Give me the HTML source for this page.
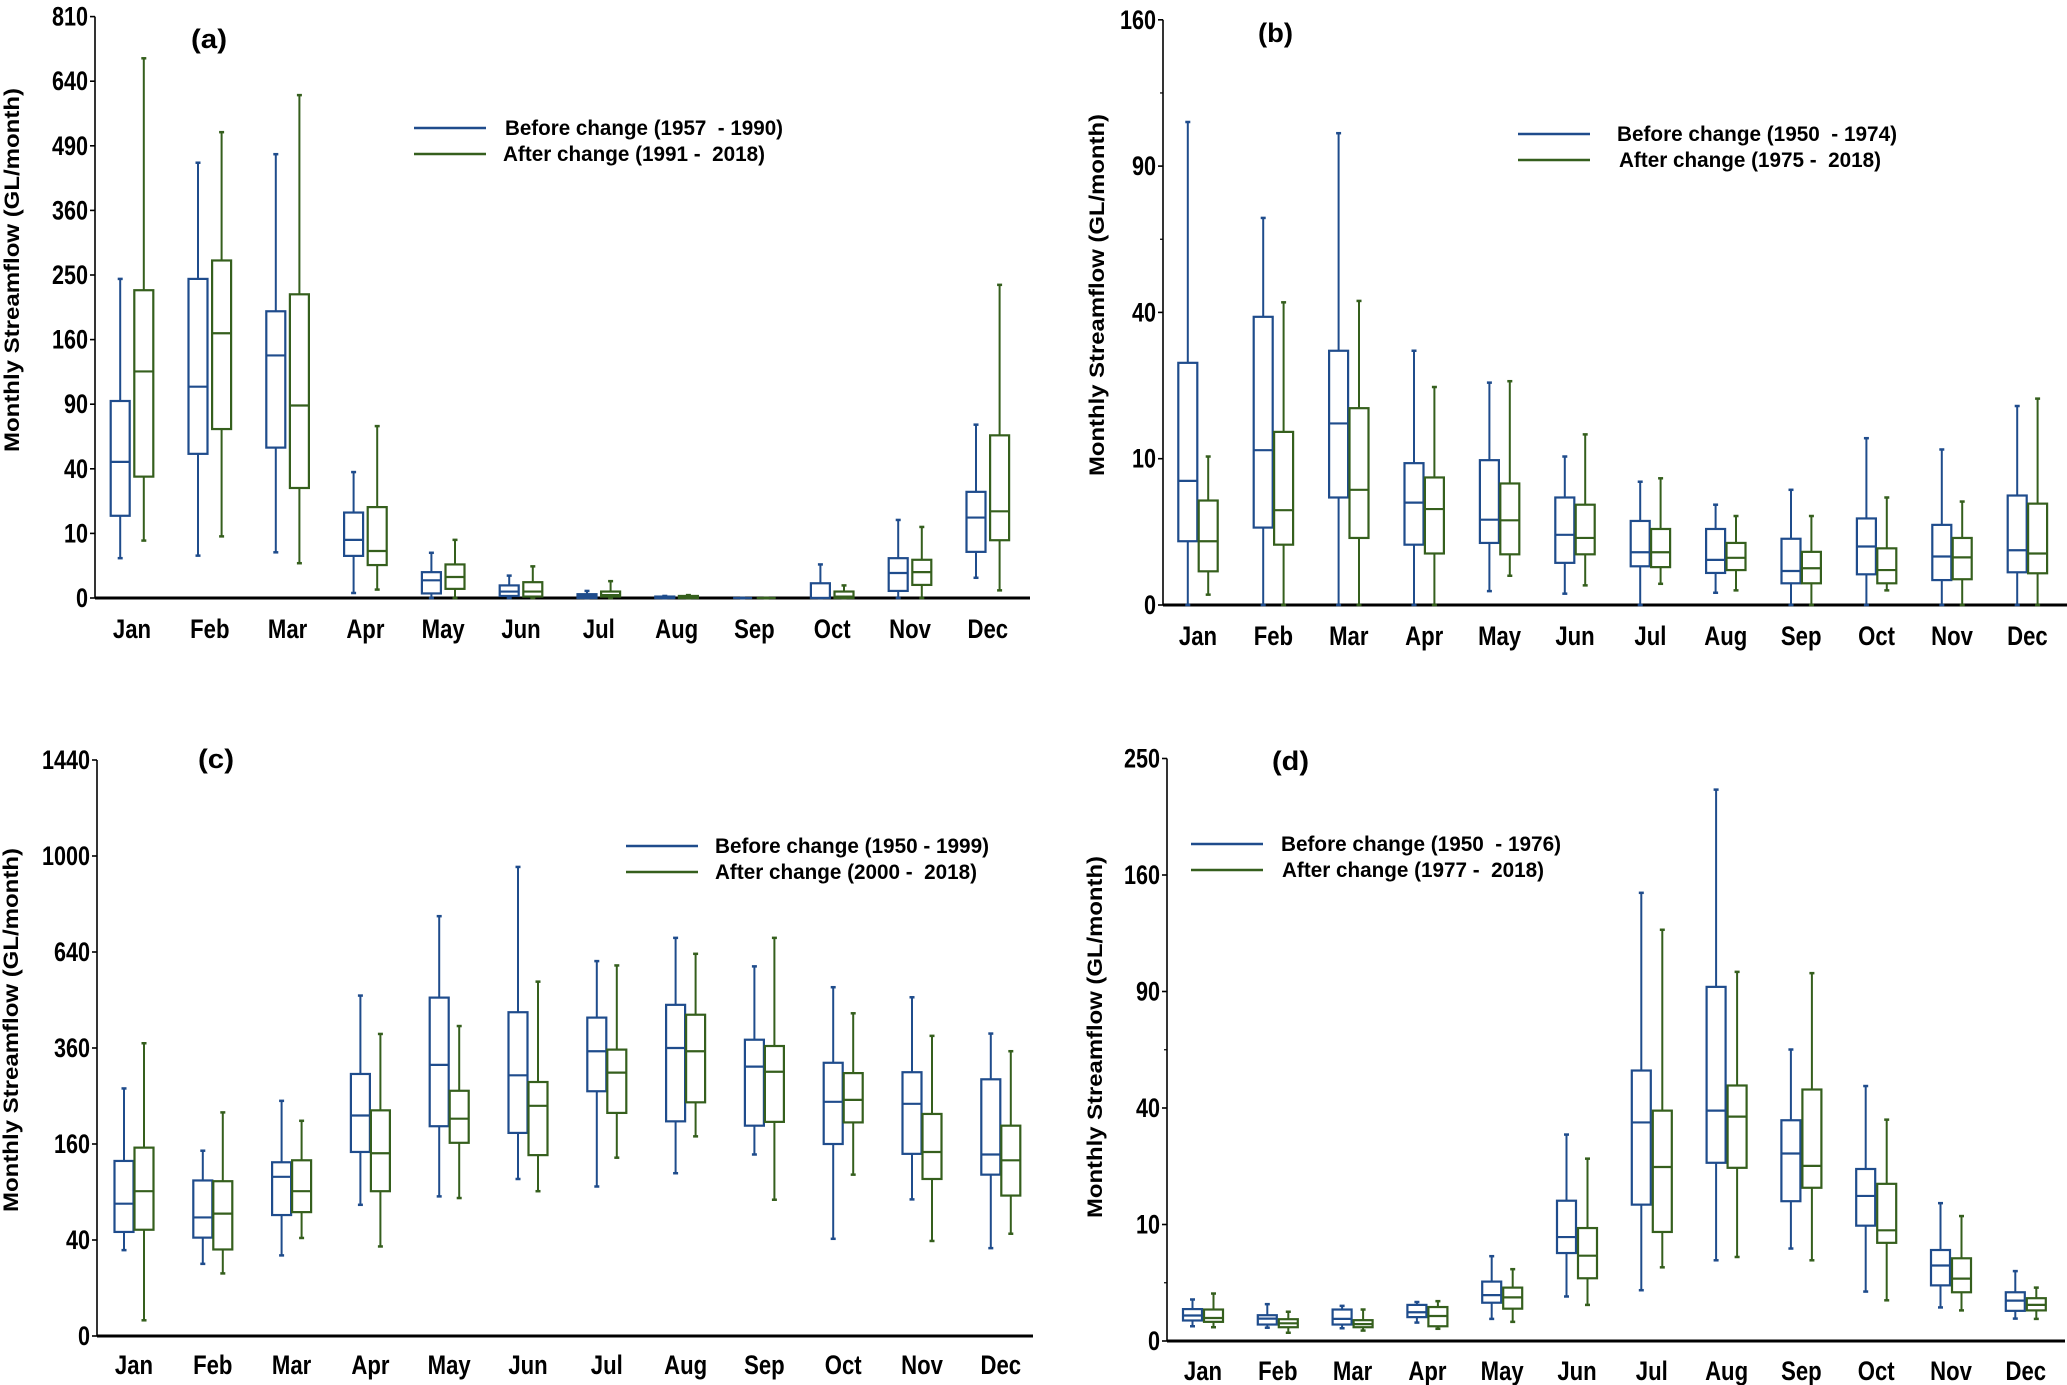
<!DOCTYPE html>
<html><head><meta charset="utf-8"><style>
html,body{margin:0;padding:0;background:#fff;}
svg{display:block;font-family:"Liberation Sans",sans-serif;font-weight:bold;}
text{white-space:pre;}
</style></head><body>
<svg id="fig" width="2067" height="1385" viewBox="0 0 2067 1385" xmlns="http://www.w3.org/2000/svg"></svg>
<script>
// ---- data: each entry [min, q1, median, q3, max] in GL/month ----
const months = ["Jan","Feb","Mar","Apr","May","Jun","Jul","Aug","Sep","Oct","Nov","Dec"];

const aBefore = [[3.8,16.2,44.4,93,244],[4.3,49.8,107,244,454],[5,54.2,141,197,472],[0.06,4.25,8.1,17.5,38],[0,0.05,0.75,1.6,4.9],[0,0.01,0.1,0.38,1.2],[0,0,0.01,0.035,0.12],[0,0,0,0.005,0.01],[0,0,0,0,0],[0,0,0,0.52,2.7],[0,0.12,1.5,3.8,14.6],[0.98,5.1,15.5,27,72]];
const aAfter  = [[7.9,35.3,123,227,698],[9.1,68.4,168,273,520],[2.9,29,88.8,221,606],[0.17,2.6,5.3,19.8,70.8],[0,0.2,1.06,2.7,8.1],[0,0.005,0.1,0.6,2.4],[0,0.005,0.02,0.1,0.68],[0,0,0.005,0.01,0.02],[0,0,0,0,0],[0,0,0.005,0.1,0.38],[0,0.41,1.6,3.5,12.1],[0.14,8,18,63.4,235]];
const aTicks = [0,10,40,90,160,250,360,490,640,810];

const bBefore = [[0,1.9,7.2,27.4,109],[0,2.8,11.2,38.8,70],[0,5.4,15.4,30.2,104],[0,1.7,4.9,9.4,30.2],[0.09,1.8,3.4,9.8,23.1],[0.06,0.83,2.3,5.4,10.3],[0,0.7,1.3,3.3,7.1],[0.07,0.48,0.95,2.7,4.7],[0,0.22,0.54,2.05,6.2],[0,0.44,1.6,3.5,13],[0,0.29,1.1,3.0,11.3],[0,0.5,1.4,5.6,18.5]];
const bAfter  = [[0.05,0.53,1.9,5.1,10.3],[0,1.7,4.2,14,42.8],[0,2.1,6.2,18.1,43.2],[0,1.24,4.3,7.6,22.2],[0.4,1.2,3.35,6.9,23.4],[0.18,1.2,2.1,4.7,13.6],[0.21,0.67,1.3,2.7,7.5],[0.1,0.57,1.04,1.8,3.7],[0,0.22,0.63,1.32,3.7],[0.1,0.22,0.57,1.5,5.4],[0,0.31,1.06,2.1,5.0],[0,0.47,1.24,4.8,19.9]];
const bTicks = [0,10,40,90,160];
const bMinor = [62.5,122.5];

const cBefore = [[32,47,76,133,266],[22.6,42,61,105,149],[28.2,63.5,110,131,240],[74.7,147,211,298,503],[84.6,191,319,497,765],[107,179,295,455,955],[97,260,352,440,610],[115,200,360,476,688],[143,192,315,381,593],[41,160,238,324,528],[81,144,234,302,498],[33.5,113,143,286,397]];
const cAfter  = [[1.07,49,91,154,372],[17,32.5,65,104,217],[41.7,66.6,91,134,201],[34.8,91,145,221,396],[82.6,162,205,261,417],[91,142,230,280,545],[138,216,301,356,596],[173,237,352,448,634],[80.6,199,303,365,688],[113,198,242,300,452],[39.2,107,147,214,391],[45.4,85.6,134,192,352]];
const cTicks = [0,40,160,360,640,1000,1440];

const dBefore = [[0.16,0.31,0.48,0.75,1.27],[0.13,0.2,0.37,0.49,1.0],[0.12,0.2,0.36,0.73,0.91],[0.25,0.42,0.61,0.96,1.12],[0.36,1.08,1.55,2.6,5.3],[1.46,5.7,7.96,14.5,31.4],[1.9,13.7,35.2,53.9,148],[4.8,23.4,39.1,92.4,224],[6.3,14.4,25.9,35.9,62.6],[1.8,9.8,15.5,21.8,47.9],[0.83,2.28,4.2,6.1,14.0],[0.37,0.67,1.2,1.75,3.6]];
const dAfter  = [[0.14,0.27,0.39,0.73,1.66],[0.05,0.14,0.23,0.35,0.63],[0.08,0.14,0.21,0.32,0.73],[0.11,0.16,0.46,0.85,1.17],[0.27,0.77,1.4,2.1,3.8],[0.96,2.9,5.36,9.4,24.5],[4.0,8.76,22.3,39.1,124.6],[5.2,22.1,37.1,48.1,100.4],[4.8,17.3,22.6,46.6,99.7],[1.22,7.1,9.03,18.2,36.1],[0.69,1.75,2.87,5.04,11.5],[0.36,0.69,0.96,1.35,2.1]];
const dTicks = [0,10,40,90,160,250];
const dMinor = [62.5,2.5];

const BLUE = "#1f4c8c", GREEN = "#355f1d";
const NS = "http://www.w3.org/2000/svg";
const svg = document.getElementById("fig");

function mk(tag, attrs, parent){
  const e = document.createElementNS(NS, tag);
  for (const k in attrs) e.setAttribute(k, attrs[k]);
  (parent||svg).appendChild(e);
  return e;
}

function panel(cfg){
  const g = mk("g", {});
  
  
  const yScale = v => cfg.y0 - Math.sqrt(Math.max(v,0)/cfg.k) * cfg.unit;
  const xScale = i => cfg.x1st + i*cfg.step;
  const topY = yScale(cfg.ticks[cfg.ticks.length-1]);
  const ya = mk("line", {x1:cfg.left, x2:cfg.left, y1:topY, y2:cfg.y0, stroke:"#000", "stroke-width":1.6}, g);
  
  
  cfg.ticks.forEach(t => {
    const y = yScale(t);
    const tk = mk("line", {x1:cfg.left-5, x2:cfg.left, y1:y, y2:y, stroke:"#000", "stroke-width":1.6}, g);
    
    
    const tl = mk("text", {x:cfg.left-7, y:y+9, "text-anchor":"end", "font-size":27, fill:"#000", transform:`translate(${cfg.left-7},0) scale(0.8,1) translate(${-(cfg.left-7)},0)`}, g);
    tl.textContent = t;
    
    
  });
  (cfg.minor||[]).forEach(t => {
    const y = yScale(t);
    const mt = mk("line", {x1:cfg.left-3, x2:cfg.left, y1:y, y2:y, stroke:"#000", "stroke-width":1.2}, g);
    
    
  });
  const xa = mk("line", {x1:cfg.left, x2:cfg.right, y1:cfg.y0, y2:cfg.y0, stroke:"#000", "stroke-width":3}, g);
  
  
  months.forEach((m,i) => {
    const ml = mk("text", {x:xScale(i), y:cfg.labY, "text-anchor":"middle", "font-size":27, fill:"#000", transform:`translate(${xScale(i)},0) scale(0.82,1) translate(${-xScale(i)},0)`}, g);
    ml.textContent = m;
    
    
  });
  const yt = mk("text", {x:0, y:0, "text-anchor":"middle", "font-size":21, fill:"#000", transform:`translate(${cfg.titleX},${cfg.titleY}) rotate(-90)`, textLength:cfg.titleLen, lengthAdjust:"spacingAndGlyphs"}, g);
  yt.textContent = "Monthly Streamflow (GL/month)";
  
  
  const pl = mk("text", {x:cfg.labX, y:cfg.labTY, "font-size":27, fill:"#000", textLength:cfg.labW, lengthAdjust:"spacingAndGlyphs"}, g);
  pl.textContent = "(" + cfg.id + ")";
  
  
  const bw = cfg.bw, off = cfg.off;
  function drawBox(d, cx, color, name){
    const bg = mk("g", {}, g);
    
    
    const [mn,q1,md,q3,mx] = d.map(yScale);
    const wl = mk("line", {x1:cx, x2:cx, y1:mx, y2:mn, stroke:color, "stroke-width":2}, bg);
    
    
    [mx,mn].forEach(y => {
      const cp = mk("line", {x1:cx-2.5, x2:cx+2.5, y1:y, y2:y, stroke:color, "stroke-width":2.5}, bg);
      
      
    });
    const r = mk("rect", {x:cx-bw/2, y:q3, width:bw, height:Math.max(q1-q3,0), fill:"#fff", stroke:color, "stroke-width":2.2}, bg);
    
    
    const ml = mk("line", {x1:cx-bw/2, x2:cx+bw/2, y1:md, y2:md, stroke:color, "stroke-width":2.2}, bg);
    
    
  }
  months.forEach((m,i) => {
    drawBox(cfg.before[i], xScale(i)-off, BLUE, 'box-before-' + m.toLowerCase());
    drawBox(cfg.after[i], xScale(i)+off, GREEN, 'box-after-' + m.toLowerCase());
  });
  const lg = mk("g", {}, g);
  
  
  [[cfg.legB, BLUE, cfg.legY1, 'legend-entry-before', cfg.legW1],[cfg.legA, GREEN, cfg.legY2, 'legend-entry-after', cfg.legW2]].forEach(([txt,col,y,nm,w]) => {
    const le = mk("g", {}, lg);
    
    
    const ln = mk("line", {x1:cfg.legLX, x2:cfg.legLX+72, y1:y, y2:y, stroke:col, "stroke-width":2.5}, le);
    
    
    const tx = mk("text", {x:cfg.legTX + (nm==='legend-entry-after'?cfg.legShift:0), y:y+7, "font-size":21, fill:"#000", textLength:w, lengthAdjust:"spacingAndGlyphs"}, le);
    tx.textContent = txt;
    
    
  });
}

panel({id:"a", before:aBefore, after:aAfter, ticks:aTicks, k:10, left:95, right:1030, y0:598, unit:64.6,
  x1st:132, step:77.8, off:11.8, bw:19, labY:638,
  titleX:19, titleY:270, titleLen:364, labX:191, labTY:48, labW:36,
  legB:"Before change (1957  - 1990)", legA:"After change (1991 -  2018)", legLX:414, legTX:505, legShift:-2, legY1:128, legY2:154, legW1:278, legW2:262});

panel({id:"b", before:bBefore, after:bAfter, ticks:bTicks, minor:bMinor, k:10, left:1163, right:2067, y0:605, unit:146.3,
  x1st:1198, step:75.4, off:10.2, bw:19, labY:645,
  titleX:1104, titleY:295, titleLen:362, labX:1258, labTY:42, labW:35,
  legB:"Before change (1950  - 1974)", legA:"After change (1975 -  2018)", legLX:1518, legTX:1617, legShift:2, legY1:134, legY2:160, legW1:280, legW2:262});

panel({id:"c", before:cBefore, after:cAfter, ticks:cTicks, k:40, left:97, right:1033, y0:1336, unit:96,
  x1st:134, step:78.8, off:10, bw:19, labY:1374,
  titleX:18, titleY:1030, titleLen:364, labX:198, labTY:768, labW:36,
  legB:"Before change (1950 - 1999)", legA:"After change (2000 -  2018)", legLX:626, legTX:715, legShift:0, legY1:846, legY2:872, legW1:274, legW2:262});

panel({id:"d", before:dBefore, after:dAfter, ticks:dTicks, minor:dMinor, k:10, left:1167, right:2065, y0:1341, unit:116.5,
  x1st:1203, step:74.8, off:10.5, bw:19, labY:1380,
  titleX:1102, titleY:1037, titleLen:362, labX:1272, labTY:770, labW:37,
  legB:"Before change (1950  - 1976)", legA:"After change (1977 -  2018)", legLX:1191, legTX:1281, legShift:1, legY1:844, legY2:870, legW1:280, legW2:262});
</script>
</body></html>
